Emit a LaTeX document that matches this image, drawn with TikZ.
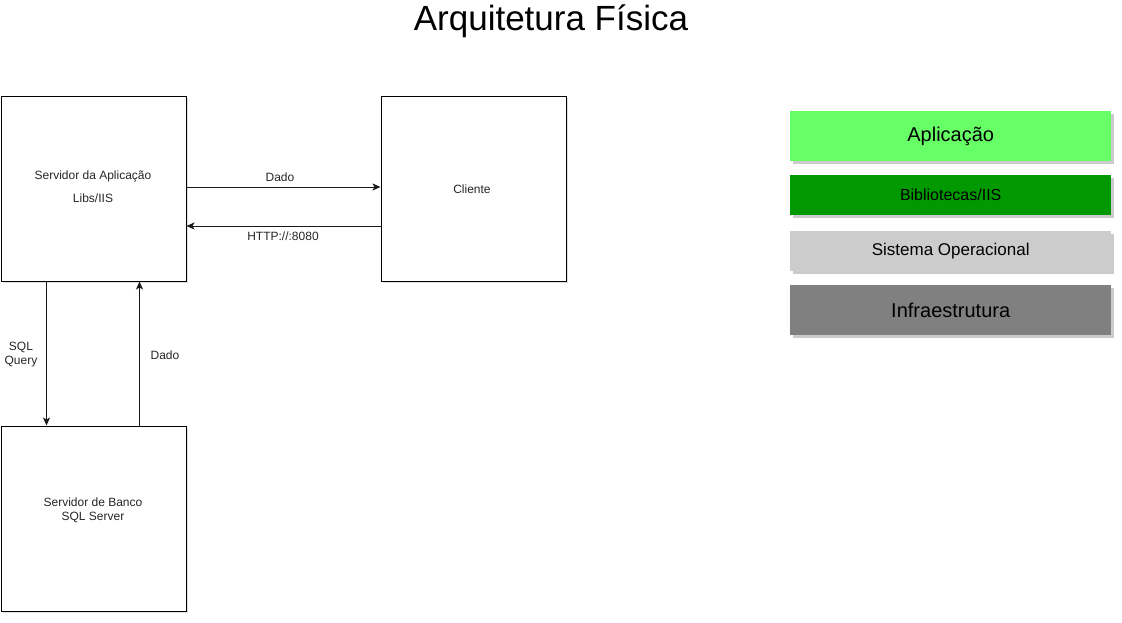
\documentclass[tikz,border=0pt]{standalone}
\usepackage{fontspec}
\setmainfont{Liberation Sans}
\usetikzlibrary{arrows.meta,shadows}
\begin{document}
\begin{tikzpicture}[x=1pt,y=-1pt,
  srv/.style={draw=black,line width=1pt,fill=white,minimum width=185pt,minimum height=185pt,inner sep=0pt,anchor=north west,
    drop shadow={shadow xshift=2pt,shadow yshift=-2pt,fill=black!25,opacity=0.5}},
  lay/.style={draw=none,minimum width=321pt,inner sep=0pt,anchor=north west,
    drop shadow={shadow xshift=3pt,shadow yshift=-3pt,fill=black!40,opacity=0.5}},
  lbl/.style={font=\fontsize{12}{14}\selectfont,inner sep=1pt,text=black!85},
  arr/.style={-{Stealth[length=8pt,width=7pt,inset=2pt]},line width=1pt,black!90}
]
\useasboundingbox (0,0) rectangle (1122,622);
% title
\node[font=\fontsize{35}{40}\selectfont] (title) at (551,21) {Arquitetura Física};
% servers
\node[srv] (app) at (0.5,95.5) {};
\node[srv] (cli) at (380.5,95.5) {};
\node[srv] (db) at (0.5,425.5) {};
\node[lbl] (appt1) at (93,176) {Servidor da Aplicação};
\node[lbl] (appt2) at (93,198) {Libs/IIS};
\node[lbl] (clit) at (472,189) {Cliente};
\node[lbl,align=center] (dbt) at (93,510) {Servidor de Banco\\SQL Server};
% connectors
\draw[arr] (app.north east |- 0,187) -- (cli.north west |- 0,187);
\draw[arr] (cli.north west |- 0,226) -- (app.north east |- 0,226);
\draw[arr] (app.south west -| 46.5,0) -- (db.north west -| 46.5,0);
\draw[arr] (db.north west -| 139.5,0) -- (app.south west -| 139.5,0);
\node[lbl] (l1) at (280,177) {Dado};
\node[lbl] (l2) at (283,236) {HTTP://:8080};
\node[lbl,align=center] (l3) at (21,355) {SQL\\Query};
\node[lbl] (l4) at (165,355) {Dado};
% layers
\node[lay,fill={rgb,255:red,102;green,255;blue,102},minimum height=50pt,font=\fontsize{20}{24}\selectfont] (a1) at (790,111) {Aplicação};
\node[lay,fill={rgb,255:red,0;green,153;blue,0},minimum height=40pt,font=\fontsize{16}{19}\selectfont] (a2) at (790,175) {Bibliotecas/IIS};
\node[lay,fill={rgb,255:red,204;green,204;blue,204},minimum height=40pt,font=\fontsize{17}{20}\selectfont] (a3) at (790,230.5) {Sistema Operacional};
\node[lay,fill={rgb,255:red,128;green,128;blue,128},minimum height=50pt,font=\fontsize{20}{24}\selectfont] (a4) at (790,285) {Infraestrutura};
\end{tikzpicture}
\end{document}
